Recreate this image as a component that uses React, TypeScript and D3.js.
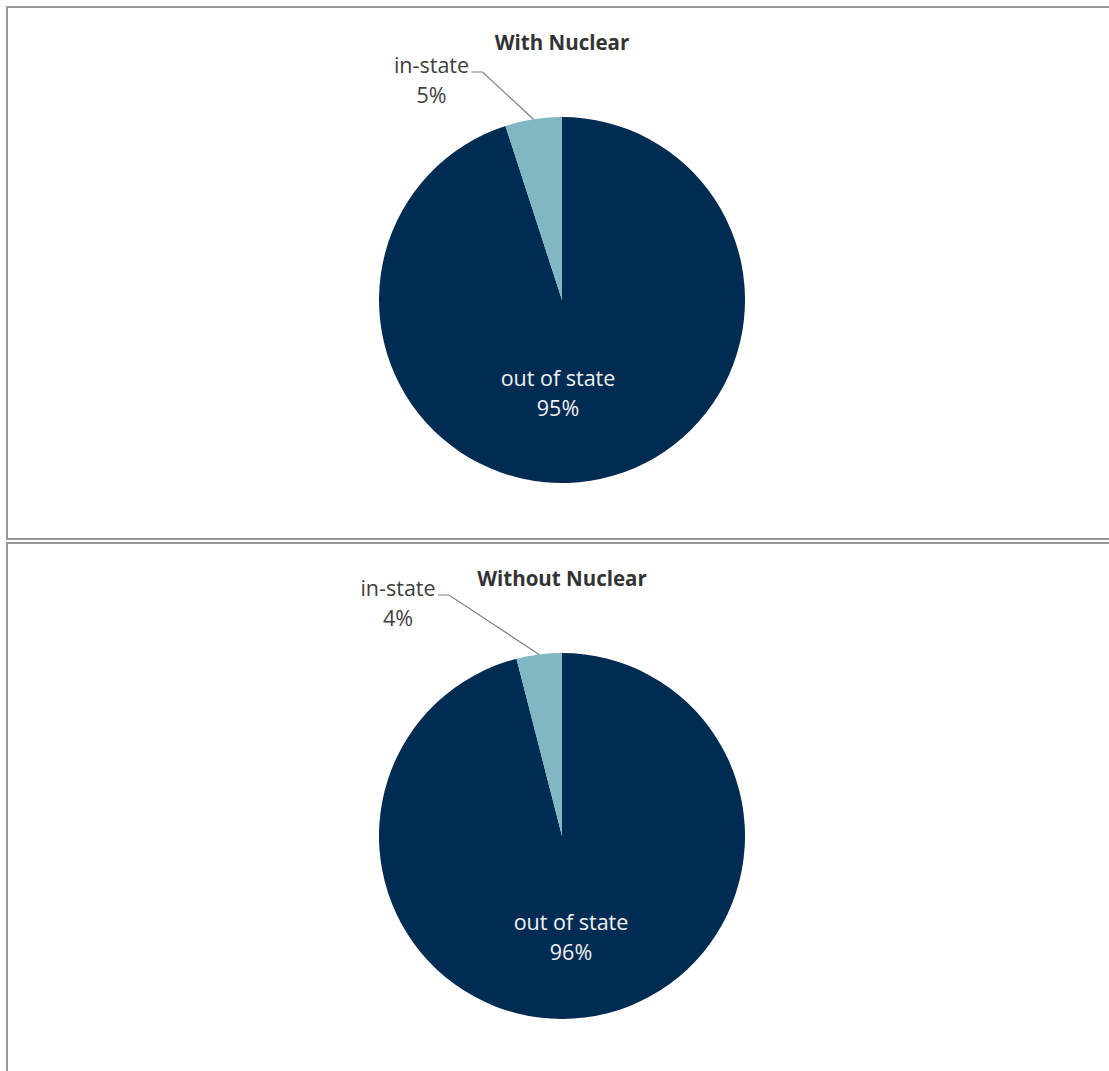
import React from "react";
import * as d3 from "d3";

// ---- data ----
const panelTitles = ["With Nuclear", "Without Nuclear"];
const categories = ["out of state", "in-state"];
const withNuclear = [95, 5];
const withoutNuclear = [96, 4];
const seriesList = [withNuclear, withoutNuclear];

// ---- layout / style ----
const W = 1109;
const H = 1071;
const panelTops = [7, 543];
const panelHeights = [532, 600];
const cx = 562;
const cyOffset = 293;
const radius = 183;
const colors = ["#002B53", "#7FB8C2"];
// label placement (relative to pie centre)
const outLabelOffsets = [
  [-4, 86],
  [9, 94],
];
const inLabelOffsets = [
  [-130.5, -227],
  [-164, -240],
];
const FONT = "'Open Sans', 'Noto Sans', sans-serif";
const LABEL_SIZE = 21.5;

export default function App() {
  const pie = d3
    .pie<number>()
    .sort(null)
    .value((d) => d)
    .startAngle(0)
    .endAngle(2 * Math.PI);
  const arc = d3.arc<d3.PieArcDatum<number>>().innerRadius(0).outerRadius(radius);

  return (
    <div style={{ position: "absolute", left: 0, top: 0 }}>
      <svg width={W} height={H} style={{ display: "block", background: "#fff" }}>
        {seriesList.map((values, pi) => {
          const top = panelTops[pi];
          const cy = top + cyOffset;
          const arcs = pie(values);
          const total = d3.sum(values);
          const outArc = arcs[0];
          const inArc = arcs[1];
          const [ox, oy] = outLabelOffsets[pi];
          const [ix, iy] = inLabelOffsets[pi];
          const inCx = cx + ix;
          const inBase = cy + iy;
          // leader line end: outer edge at mid-angle of in-state slice
          const mid = (inArc.startAngle + inArc.endAngle) / 2;
          const ex = cx + radius * Math.sin(mid);
          const ey = cy - radius * Math.cos(mid);
          const textHalf = 37;
          const lx0 = inCx + textHalf + 3;
          const lx1 = lx0 + 11;
          const ly = inBase - 1;
          const pct = (v: number) => `${Math.round((v / total) * 100)}%`;
          return (
            <g key={pi}>
              <rect
                x={7}
                y={top}
                width={W + 20}
                height={panelHeights[pi]}
                fill="#fff"
                stroke="#979797"
                strokeWidth={2}
              />
              <text
                x={cx}
                y={top + 43}
                textAnchor="middle"
                fontFamily={FONT}
                fontWeight="bold"
                fontSize={20.5}
                fill="#333333"
              >
                {panelTitles[pi]}
              </text>
              <g transform={`translate(${cx},${cy})`}>
                {arcs.map((a, i) => (
                  <path key={i} d={arc(a) || ""} fill={colors[i]} />
                ))}
              </g>
              <text
                x={cx + ox}
                y={cy + oy}
                textAnchor="middle"
                fontFamily={FONT}
                fontSize={LABEL_SIZE}
                fill="#F2F2F2"
              >
                <tspan x={cx + ox} dy={0}>
                  {categories[0]}
                </tspan>
                <tspan x={cx + ox} dy={29.5}>
                  {pct(outArc.data)}
                </tspan>
              </text>
              <polyline
                points={`${lx0},${ly} ${lx1},${ly} ${ex},${ey}`}
                fill="none"
                stroke="#7F7F7F"
                strokeWidth={1.2}
              />
              <text
                x={inCx}
                y={inBase}
                textAnchor="middle"
                fontFamily={FONT}
                fontSize={LABEL_SIZE}
                fill="#404040"
              >
                <tspan x={inCx} dy={0}>
                  {categories[1]}
                </tspan>
                <tspan x={inCx} dy={30}>
                  {pct(inArc.data)}
                </tspan>
              </text>
            </g>
          );
        })}
      </svg>
    </div>
  );
}
